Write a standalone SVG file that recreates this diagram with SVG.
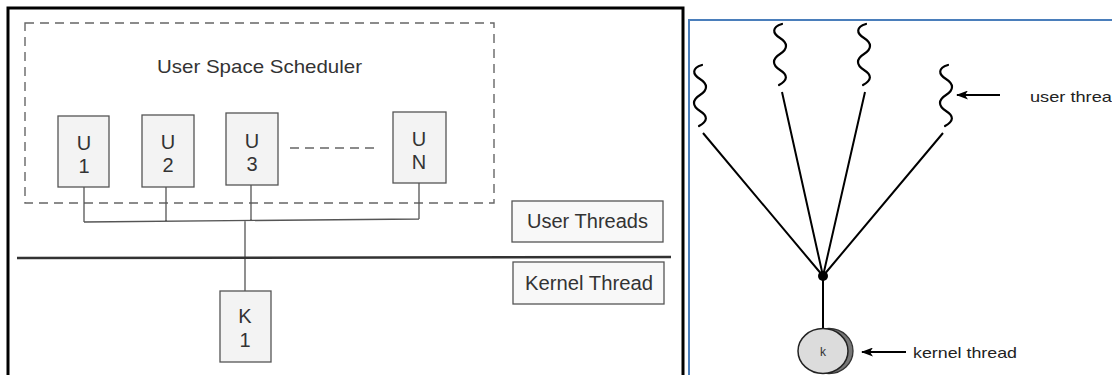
<svg xmlns="http://www.w3.org/2000/svg" width="1112" height="375" viewBox="0 0 1112 375">
<defs>
<style>
.box{fill:#f3f3f3;stroke:#555;stroke-width:1.3}
.lbl{fill:#f8f8f8;stroke:#555;stroke-width:1.3}
.t{font-family:"Liberation Sans",Arial,sans-serif;fill:#333;text-anchor:middle}
.b{font-size:20px}
.wire{stroke:#555;stroke-width:1.3;fill:none}
.dash{stroke:#666;stroke-width:1.4;fill:none;stroke-dasharray:9,6}
.sq{stroke:#000;stroke-width:2.2;fill:none;stroke-linecap:round}
.ln{stroke:#000;stroke-width:2;fill:none}
.rt{font-family:"Liberation Sans",Arial,sans-serif;fill:#222;font-size:15px}
</style>
<marker id="ah" markerWidth="12" markerHeight="9" refX="11" refY="4.5" orient="auto" markerUnits="userSpaceOnUse">
<path d="M0,0 L12,4.5 L0,9 L3,4.5 Z" fill="#000"/>
</marker>
<path id="squig" d="M2,0 C-8,3 -8,9 0,14 C8,19 8,25 0,30 C-8,35 -8,41 0,46 C8,51 8,56 -1,61"/>
</defs>
<rect width="1112" height="375" fill="#fff"/>
<!-- Left panel -->
<rect id="left-frame" x="8" y="8" width="675" height="380" fill="none" stroke="#000" stroke-width="3"/>
<g id="scheduler">
<rect x="25" y="23" width="469" height="180" class="dash"/>
<text class="t" x="157" y="73" font-size="19" text-anchor="start" style="text-anchor:start" textLength="205" lengthAdjust="spacingAndGlyphs">User Space Scheduler</text>
</g>
<g id="connectors">
<path class="wire" d="M84,187 V222 M166,187 V222 M251,185 V221 M419,183 V219 M84,222 L419,219 M245,221 V291"/>
<line class="dash" x1="290" y1="148" x2="377" y2="148"/>
<line x1="17" y1="258" x2="671" y2="257" stroke="#333" stroke-width="2.5"/>
<path class="ln" d="M703,133 L823,276 M782,92 L823,276 M865,92 L823,276 M943,133 L823,276 M823,276 V328"/>
<line class="ln" x1="1000" y1="95" x2="957" y2="95" marker-end="url(#ah)"/>
<line class="ln" x1="906" y1="352" x2="862" y2="352" marker-end="url(#ah)"/>
</g>
<g id="u1"><rect class="box" x="58" y="116" width="51" height="71"/><text class="t b" x="84" y="150">U</text><text class="t b" x="84" y="173">1</text></g>
<g id="u2"><rect class="box" x="142" y="115" width="52" height="72"/><text class="t b" x="168" y="149">U</text><text class="t b" x="168" y="172">2</text></g>
<g id="u3"><rect class="box" x="226" y="113" width="52" height="72"/><text class="t b" x="252" y="148">U</text><text class="t b" x="252" y="171">3</text></g>
<g id="un"><rect class="box" x="393" y="112" width="53" height="71"/><text class="t b" x="419" y="146">U</text><text class="t b" x="419" y="169">N</text></g>
<g id="k1"><rect class="box" x="220" y="291" width="51" height="71"/><text class="t b" x="245" y="323">K</text><text class="t b" x="245" y="347">1</text></g>
<g id="user-threads"><rect class="lbl" x="512" y="201" width="151" height="41"/><text class="t" x="527" y="228" font-size="19.5" style="text-anchor:start" textLength="121" lengthAdjust="spacingAndGlyphs">User Threads</text></g>
<g id="kernel-thread"><rect class="lbl" x="513" y="262" width="151" height="42"/><text class="t" x="525" y="290" font-size="19.5" style="text-anchor:start" textLength="128" lengthAdjust="spacingAndGlyphs">Kernel Thread</text></g>
<!-- Right panel -->
<rect id="right-frame" x="689" y="20" width="500" height="400" fill="none" stroke="#4a7ebb" stroke-width="2"/>
<g id="ut1"><use href="#squig" class="sq" x="700" y="65"/></g>
<g id="ut2"><use href="#squig" class="sq" x="780" y="24"/></g>
<g id="ut3"><use href="#squig" class="sq" x="864" y="24"/></g>
<g id="ut4"><use href="#squig" class="sq" x="946" y="65"/></g>
<g id="hub"><circle cx="823" cy="276" r="5" fill="#000"/></g>
<g id="kernel">
<ellipse cx="829" cy="351" rx="24" ry="22.5" fill="#777" stroke="#333" stroke-width="1.3"/>
<ellipse cx="823" cy="351" rx="25" ry="22.5" fill="#dcdcdc" stroke="#222" stroke-width="1.5"/>
<text x="823" y="356" font-family="Liberation Sans,Arial,sans-serif" font-size="12" fill="#333" text-anchor="middle">k</text>
</g>
<text class="rt" x="1030" y="102" textLength="92" lengthAdjust="spacingAndGlyphs">user thread</text>
<text class="rt" x="913" y="358" textLength="104" lengthAdjust="spacingAndGlyphs">kernel thread</text>
</svg>
